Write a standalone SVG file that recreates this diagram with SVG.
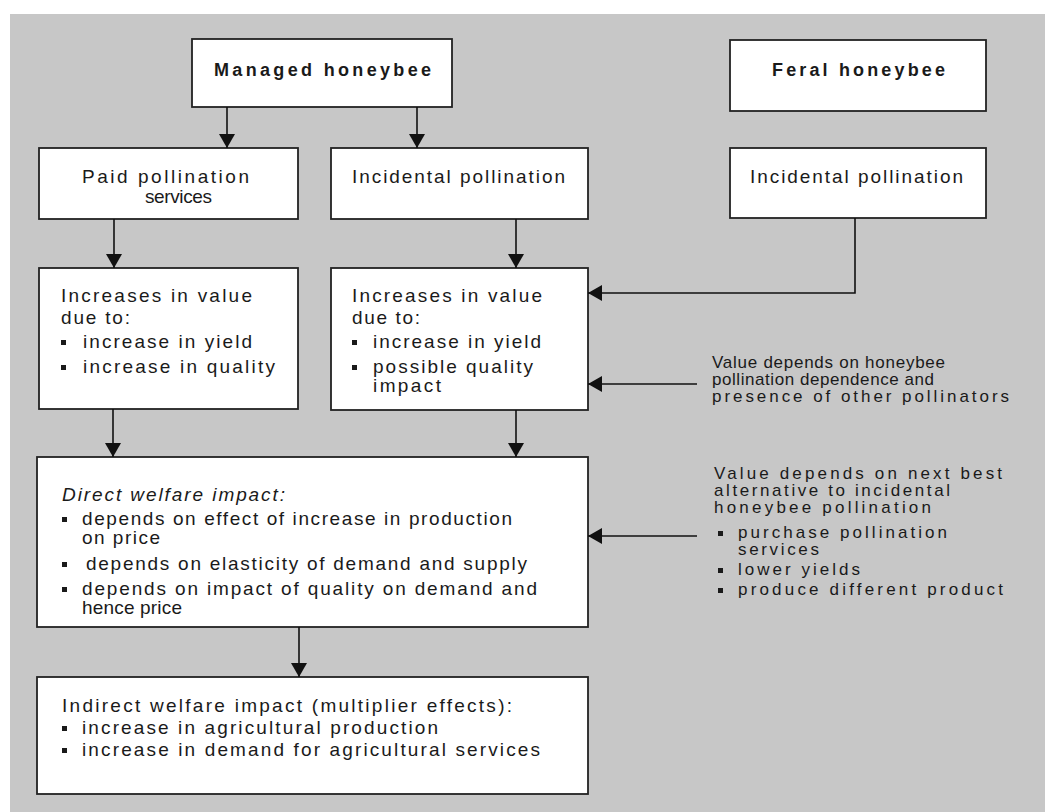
<svg xmlns="http://www.w3.org/2000/svg" width="1045" height="812" viewBox="0 0 1045 812">
<defs>
<marker id="ah" viewBox="0 0 14 16" refX="14" refY="8" markerWidth="14" markerHeight="16" markerUnits="userSpaceOnUse" orient="auto">
<path d="M0,0 L14,8 L0,16 z" fill="#111"/>
</marker>
</defs>
<style>
.box{fill:#fff;stroke:#222;stroke-width:1.8}
.t{font-family:"Liberation Sans",Arial,sans-serif;font-size:19px;fill:#1a1a1a}
.b{font-weight:bold;font-size:18px}
.n{font-size:17px}
.c{fill:none;stroke:#111;stroke-width:1.6;marker-end:url(#ah)}
.bul{fill:#1a1a1a}
</style>
<rect x="10" y="14" width="1035" height="798" fill="#c7c7c7"/>

<g id="managed">
<rect class="box" x="192" y="39" width="260" height="68"/>
<text class="t b" x="214" y="76" textLength="217" lengthAdjust="spacing">Managed honeybee</text>
</g>
<g id="feral">
<rect class="box" x="730" y="40" width="256" height="71"/>
<text class="t b" x="772" y="76" textLength="173" lengthAdjust="spacing">Feral honeybee</text>
</g>
<g id="paid">
<rect class="box" x="39" y="148" width="259" height="71"/>
<text class="t" x="82" y="183" textLength="167" lengthAdjust="spacing">Paid pollination</text>
<text class="t" x="145" y="203" textLength="67" lengthAdjust="spacing">services</text>
</g>
<g id="incidental-managed">
<rect class="box" x="331" y="148" width="257" height="71"/>
<text class="t" x="352" y="183" textLength="213" lengthAdjust="spacing">Incidental pollination</text>
</g>
<g id="incidental-feral">
<rect class="box" x="730" y="148" width="256" height="70"/>
<text class="t" x="750" y="183" textLength="213" lengthAdjust="spacing">Incidental pollination</text>
</g>
<g id="increase-paid">
<rect class="box" x="39" y="268" width="259" height="141"/>
<text class="t" x="61" y="302" textLength="191" lengthAdjust="spacing">Increases in value</text>
<text class="t" x="61" y="324" textLength="69" lengthAdjust="spacing">due to:</text>
<rect class="bul" x="61" y="340" width="5" height="5"/>
<text class="t" x="83" y="348" textLength="169" lengthAdjust="spacing">increase in yield</text>
<rect class="bul" x="61" y="365" width="5" height="5"/>
<text class="t" x="83" y="373" textLength="192" lengthAdjust="spacing">increase in quality</text>
</g>
<g id="increase-incidental">
<rect class="box" x="331" y="268" width="257" height="142"/>
<text class="t" x="352" y="302" textLength="190" lengthAdjust="spacing">Increases in value</text>
<text class="t" x="352" y="324" textLength="68" lengthAdjust="spacing">due to:</text>
<rect class="bul" x="352" y="340" width="5" height="5"/>
<text class="t" x="373" y="348" textLength="168" lengthAdjust="spacing">increase in yield</text>
<rect class="bul" x="352" y="365" width="5" height="5"/>
<text class="t" x="373" y="373" textLength="160" lengthAdjust="spacing">possible quality</text>
<text class="t" x="373" y="392" textLength="68" lengthAdjust="spacing">impact</text>
</g>
<g id="direct">
<rect class="box" x="37" y="457" width="551" height="170"/>
<text class="t" x="62" y="501" font-style="italic" textLength="223" lengthAdjust="spacing">Direct welfare impact:</text>
<rect class="bul" x="62" y="517" width="5" height="5"/>
<text class="t" x="82" y="525" textLength="430" lengthAdjust="spacing">depends on effect of increase in production</text>
<text class="t" x="82" y="544" textLength="78" lengthAdjust="spacing">on price</text>
<rect class="bul" x="62" y="562" width="5" height="5"/>
<text class="t" x="86" y="570" textLength="441" lengthAdjust="spacing">depends on elasticity of demand and supply</text>
<rect class="bul" x="62" y="587" width="5" height="5"/>
<text class="t" x="82" y="595" textLength="455" lengthAdjust="spacing">depends on impact of quality on demand and</text>
<text class="t" x="82" y="614" textLength="100" lengthAdjust="spacing">hence price</text>
</g>
<g id="indirect">
<rect class="box" x="37" y="677" width="551" height="117"/>
<text class="t" x="62" y="712" textLength="450" lengthAdjust="spacing">Indirect welfare impact (multiplier effects):</text>
<rect class="bul" x="62" y="726" width="5" height="5"/>
<text class="t" x="82" y="734" textLength="356" lengthAdjust="spacing">increase in agricultural production</text>
<rect class="bul" x="62" y="748" width="5" height="5"/>
<text class="t" x="82" y="756" textLength="458" lengthAdjust="spacing">increase in demand for agricultural services</text>
</g>
<g id="note-dependence">
<text class="t n" x="712" y="368" textLength="233" lengthAdjust="spacing">Value depends on honeybee</text>
<text class="t n" x="712" y="385" textLength="222" lengthAdjust="spacing">pollination dependence and</text>
<text class="t n" x="712" y="402" textLength="297" lengthAdjust="spacing">presence of other pollinators</text>
</g>
<g id="note-alternative">
<text class="t n" x="714" y="479" textLength="288" lengthAdjust="spacing">Value depends on next best</text>
<text class="t n" x="714" y="496" textLength="236" lengthAdjust="spacing">alternative to incidental</text>
<text class="t n" x="714" y="513" textLength="217" lengthAdjust="spacing">honeybee pollination</text>
<rect class="bul" x="718" y="531" width="5" height="5"/>
<text class="t n" x="738" y="538" textLength="209" lengthAdjust="spacing">purchase pollination</text>
<text class="t n" x="738" y="555" textLength="81" lengthAdjust="spacing">services</text>
<rect class="bul" x="718" y="568" width="5" height="5"/>
<text class="t n" x="738" y="575" textLength="122" lengthAdjust="spacing">lower yields</text>
<rect class="bul" x="718" y="588" width="5" height="5"/>
<text class="t n" x="738" y="595" textLength="265" lengthAdjust="spacing">produce different product</text>
</g>

<g id="connectors">
<path class="c" d="M227,107 V148"/>
<path class="c" d="M417,107 V148"/>
<path class="c" d="M114,219 V268"/>
<path class="c" d="M516,219 V268"/>
<path class="c" d="M855,218 V293 H588"/>
<path class="c" d="M113,409 V457"/>
<path class="c" d="M516,410 V457"/>
<path class="c" d="M697,384 H588"/>
<path class="c" d="M697,536 H588"/>
<path class="c" d="M299,627 V677"/>
</g>
</svg>
